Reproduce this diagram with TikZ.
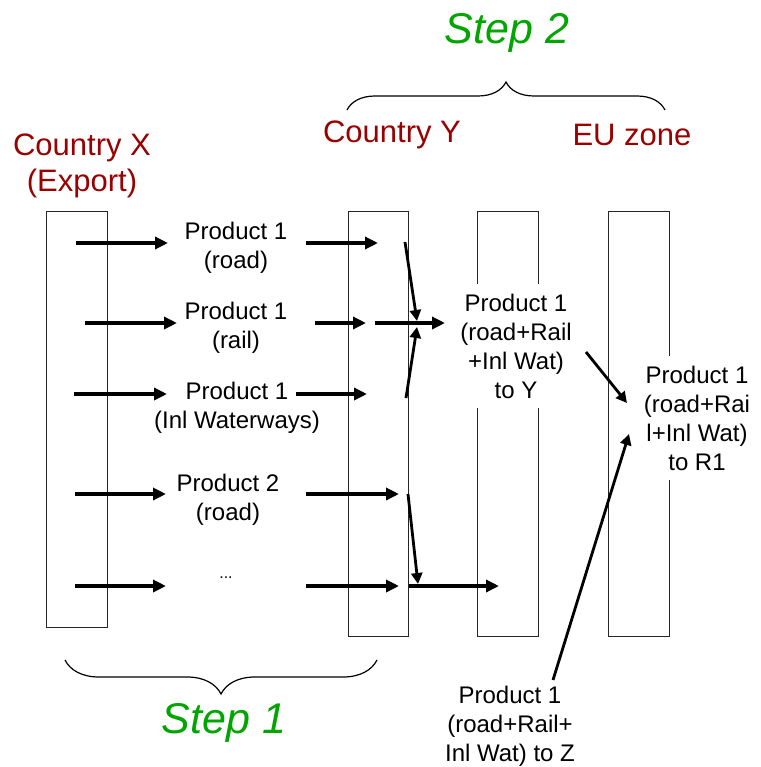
\documentclass[tikz,border=0pt]{standalone}
\usepackage{fontspec}
\setmainfont{Liberation Sans}
\usetikzlibrary{arrows.meta, decorations.pathreplacing}
\definecolor{regionred}{RGB}{153,0,0}
\definecolor{stepgreen}{RGB}{0,165,0}

\begin{document}
\begin{tikzpicture}[x=1pt, y=-1pt,
    box/.style={draw=black!85, line width=1pt},
    prod/.style={font=\fontsize{24}{29}\selectfont, align=center, inner sep=0pt},
    region/.style={font=\fontsize{31}{36}\selectfont, text=regionred, align=center, inner sep=0pt},
    steplabel/.style={font=\fontsize{43}{48}\selectfont\itshape, text=stepgreen, inner sep=0pt},
    flow/.style={-{Triangle[length=13pt,width=12pt]}, line width=3.4pt},
    merge/.style={-{Triangle[length=11pt,width=11pt]}, line width=2.8pt},
    curly/.style={decorate, line width=1.2pt, decoration={brace, amplitude=#1}}]
  \useasboundingbox (0,0) rectangle (760,767);

  % Country boxes
  \draw[box] (46,212) rectangle (107,627);
  \draw[box] (348,212) rectangle (408,636);
  \draw[box] (477,212) rectangle (538,636);
  \draw[box] (608,212) rectangle (669,636);

  % Headings
  \node[steplabel] (step2) at (507,33) {Step 2};
  \node[steplabel] (step1) at (224,723) {Step 1};
  \node[region] (cx) at (82,166) {Country X\\(Export)};
  \node[region] (cy) at (392,135) {Country Y};
  \node[region] (eu) at (632,135) {EU zone};

  % Braces
  \draw[curly=28pt] (347,110) -- (665,110);
  \draw[curly=34pt] (377,660) -- (65,660);

  % Products per mode
  \node[prod] (p1road) at (236,248) {Product 1\\(road)};
  \node[prod] (p1rail) at (236,328) {Product 1\\(rail)};
  \node[prod] (p1inl) at (237,408) {Product 1\\(Inl Waterways)};
  \node[prod] (p2road) at (228,500) {Product 2\\(road)};
  \node[prod, font=\fontsize{16}{20}\selectfont] (more) at (226,578) {...};

  % Aggregated products
  \node[prod, fill=white, inner ysep=10pt, inner xsep=2pt] (toY) at (516,346) {Product 1\\(road+Rail\\+Inl Wat)\\to Y};
  \node[prod, fill=white, inner ysep=10pt, inner xsep=2pt] (toR) at (697,418) {Product 1\\(road+Rai\\l+Inl Wat)\\to R1};
  \node[prod] (toZ) at (510,726) {Product 1\\(road+Rail+\\Inl Wat) to Z};

  % Arrows out of X and into Y
  \foreach \y/\a/\b/\c/\d [count=\i] in {243/76/168/306/378, 323/85/177/315/366,
      394/74/167/296/367, 494/75/166/306/399, 586/75/166/306/399} {
    \coordinate (xa\i) at (\a,\y);
    \coordinate (xb\i) at (\b,\y);
    \coordinate (ya\i) at (\c,\y);
    \coordinate (yb\i) at (\d,\y);
    \draw[flow] (xa\i) -- (xb\i);
    \draw[flow] (ya\i) -- (yb\i);
  }

  % Merging in Y
  \coordinate (m1) at (405,242);
  \coordinate (m2) at (406,398);
  \coordinate (m4) at (408,494);
  \coordinate (r2a) at (375,323);
  \coordinate (r2b) at (445,323);
  \coordinate (r5a) at (409,586);
  \coordinate (r5b) at (499,586);
  \draw[merge] (m1) -- (417,321);
  \draw[merge] (m2) -- (417,327);
  \draw[merge] (m4) -- (418,584);
  \draw[flow] (r2a) -- (r2b);
  \draw[flow] (r5a) -- (r5b);

  % Into the EU zone
  \coordinate (yout) at (586,352);
  \coordinate (euin) at (627,403);
  \coordinate (zout) at (553,680);
  \coordinate (euin2) at (629,434);
  \draw[merge] (yout) -- (euin);
  \draw[merge] (zout) -- (euin2);
\end{tikzpicture}
\end{document}
